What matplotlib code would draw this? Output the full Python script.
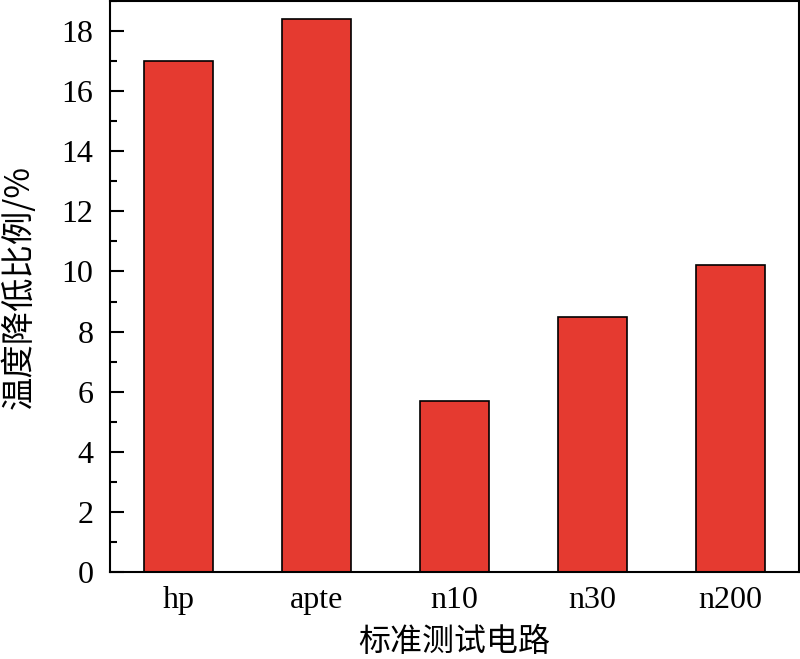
import matplotlib
matplotlib.use("Agg")
import matplotlib.pyplot as plt
from matplotlib.ticker import MultipleLocator

categories = ["hp", "apte", "n10", "n30", "n200"]
values = [17.0, 18.4, 5.7, 8.5, 10.2]
yticks = [0, 2, 4, 6, 8, 10, 12, 14, 16, 18]

plt.rcParams['font.family'] = ['Liberation Serif', 'Noto Sans CJK SC']
cjk = ['Noto Sans CJK SC', 'DejaVu Sans']

fig = plt.figure(figsize=(8, 6.59), dpi=100)
ax = fig.add_axes([0.1375, 0.132, 0.86125, 0.8665])
x = list(range(len(categories)))
ax.bar(x, values, width=0.5, color='#E53A30', edgecolor='black', linewidth=1.2)
ax.set_xlim(-0.5, 4.5)
ax.set_ylim(0, 19)
ax.set_xticks(x)
ax.set_xticklabels(categories)
ax.set_yticks(yticks)
ax.yaxis.set_minor_locator(MultipleLocator(1))
ax.tick_params(axis='y', which='major', direction='in', length=10, width=1.5, labelsize=23, pad=12)
ax.tick_params(axis='y', which='minor', direction='in', length=5, width=1.5)
ax.tick_params(axis='x', which='both', length=0, labelsize=23, pad=10)
for s in ax.spines.values():
    s.set_linewidth(1.5)
ax.set_xlabel('标准测试电路', family=cjk, fontsize=23, labelpad=8)
ax.set_ylabel('温度降低比例/%', family=cjk, fontsize=24, labelpad=18)
fig.savefig('out.png', dpi=100)
